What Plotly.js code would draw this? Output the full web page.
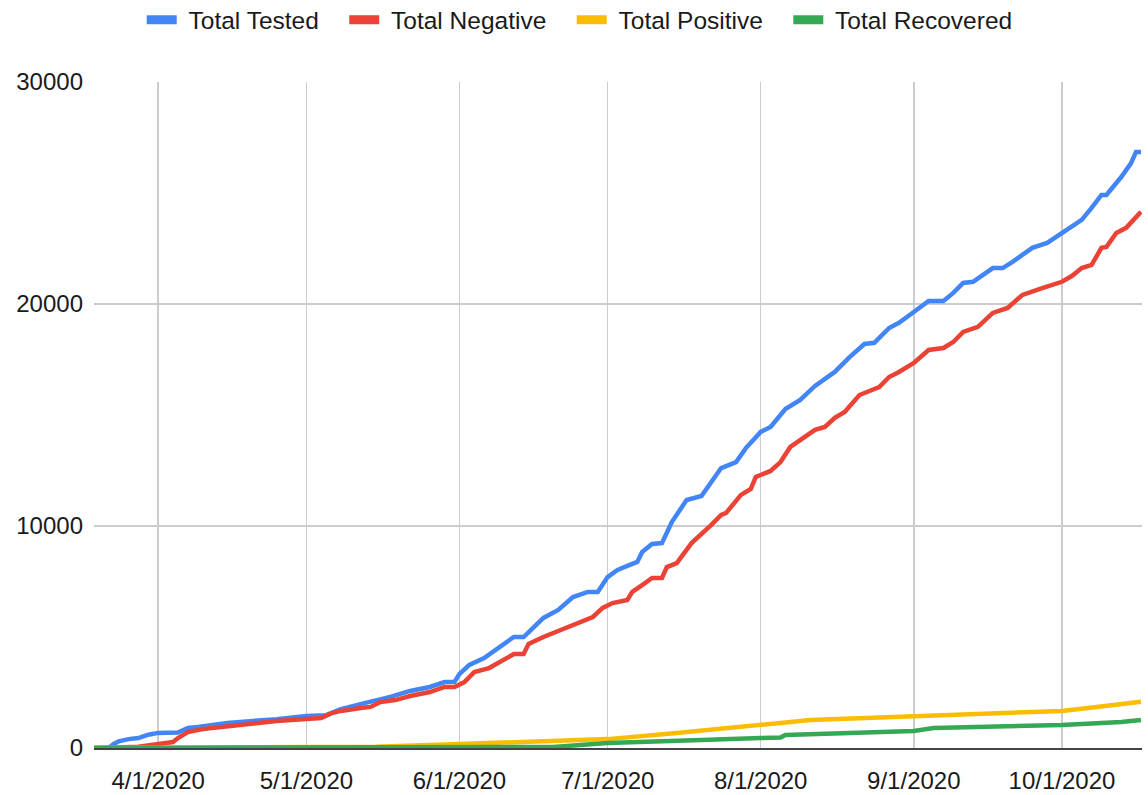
<!DOCTYPE html>
<html>
<head>
<meta charset="utf-8">
<script src="https://cdn.plot.ly/plotly-3.0.1.min.js"></script>
<style>html,body{margin:0;padding:0;background:#fff;}#chart{width:1148px;height:795px;}</style>
</head>
<body>
<div id="chart"></div>
<script>
// Total Tested
const testedDates = ["2020-03-19","2020-03-22","2020-03-23","2020-03-24","2020-03-26","2020-03-28","2020-03-30","2020-04-01","2020-04-05","2020-04-07","2020-04-09","2020-04-15","2020-04-25","2020-05-01","2020-05-05","2020-05-08","2020-05-13","2020-05-18","2020-05-22","2020-05-26","2020-05-29","2020-05-31","2020-06-01","2020-06-03","2020-06-06","2020-06-09","2020-06-12","2020-06-14","2020-06-18","2020-06-21","2020-06-24","2020-06-27","2020-06-29","2020-07-01","2020-07-03","2020-07-05","2020-07-07","2020-07-08","2020-07-10","2020-07-12","2020-07-14","2020-07-17","2020-07-20","2020-07-24","2020-07-27","2020-07-29","2020-08-01","2020-08-03","2020-08-06","2020-08-09","2020-08-12","2020-08-16","2020-08-19","2020-08-22","2020-08-24","2020-08-27","2020-08-29","2020-09-01","2020-09-04","2020-09-07","2020-09-09","2020-09-11","2020-09-13","2020-09-17","2020-09-19","2020-09-21","2020-09-25","2020-09-28","2020-10-01","2020-10-03","2020-10-05","2020-10-07","2020-10-09","2020-10-10","2020-10-13","2020-10-15","2020-10-16","2020-10-17"];
const testedValues = [0,0,180,300,400,450,600,680,700,900,950,1130,1300,1440,1480,1750,2030,2300,2570,2750,2970,2980,3330,3740,4050,4550,5000,5000,5860,6220,6800,7030,7030,7700,8020,8200,8380,8830,9190,9230,10180,11170,11350,12610,12880,13510,14240,14460,15270,15680,16310,16940,17610,18200,18250,18920,19150,19640,20140,20140,20500,20950,21000,21620,21620,21900,22530,22750,23200,23470,23790,24330,24910,24910,25720,26350,26850,26850];

// Total Negative
const negativeDates = ["2020-03-19","2020-03-22","2020-03-25","2020-03-28","2020-04-01","2020-04-04","2020-04-05","2020-04-07","2020-04-10","2020-04-15","2020-04-20","2020-04-25","2020-05-01","2020-05-04","2020-05-06","2020-05-08","2020-05-12","2020-05-14","2020-05-16","2020-05-19","2020-05-22","2020-05-26","2020-05-29","2020-05-31","2020-06-02","2020-06-04","2020-06-07","2020-06-09","2020-06-12","2020-06-14","2020-06-15","2020-06-18","2020-06-20","2020-06-23","2020-06-26","2020-06-28","2020-06-30","2020-07-02","2020-07-05","2020-07-06","2020-07-08","2020-07-10","2020-07-12","2020-07-13","2020-07-15","2020-07-18","2020-07-22","2020-07-24","2020-07-25","2020-07-28","2020-07-30","2020-07-31","2020-08-03","2020-08-05","2020-08-07","2020-08-10","2020-08-12","2020-08-14","2020-08-16","2020-08-18","2020-08-21","2020-08-25","2020-08-27","2020-08-29","2020-09-01","2020-09-04","2020-09-07","2020-09-09","2020-09-11","2020-09-14","2020-09-17","2020-09-20","2020-09-23","2020-09-27","2020-10-01","2020-10-03","2020-10-05","2020-10-07","2020-10-09","2020-10-10","2020-10-12","2020-10-14","2020-10-17"];
const negativeValues = [0,0,30,60,180,270,450,720,850,990,1130,1220,1310,1350,1560,1670,1800,1850,2070,2160,2340,2520,2750,2750,2970,3420,3600,3830,4230,4230,4690,5000,5180,5500,5770,5900,6310,6530,6670,7030,7340,7660,7660,8150,8330,9230,10050,10500,10590,11400,11670,12210,12480,12880,13560,14010,14330,14460,14870,15140,15900,16260,16710,16940,17340,17930,18020,18290,18740,18970,19600,19820,20410,20720,21000,21260,21620,21760,22530,22570,23200,23430,24150];

// Total Positive
const positiveDates = ["2020-03-19","2020-04-01","2020-04-15","2020-05-01","2020-05-15","2020-06-01","2020-06-15","2020-07-01","2020-07-15","2020-08-01","2020-08-05","2020-08-11","2020-09-01","2020-09-11","2020-10-01","2020-10-08","2020-10-17"];
const positiveValues = [0,10,20,30,60,180,280,400,680,1080,1130,1260,1440,1530,1670,1850,2080];

// Total Recovered
const recoveredDates = ["2020-03-19","2020-04-15","2020-05-01","2020-06-01","2020-06-20","2020-07-01","2020-07-10","2020-07-20","2020-08-01","2020-08-05","2020-08-06","2020-08-19","2020-09-01","2020-09-05","2020-09-17","2020-10-01","2020-10-13","2020-10-16","2020-10-17"];
const recoveredValues = [0,0,5,20,50,220,270,360,450,470,590,680,770,900,950,1040,1170,1200,1260];

const seriesNames = ["Total Tested","Total Negative","Total Positive","Total Recovered"];
const seriesColors = ["#4285F4","#EA4335","#FBBC04","#34A853"];
const yTicks = [0,10000,20000,30000];

const xs = [testedDates, negativeDates, positiveDates, recoveredDates];
const ys = [testedValues, negativeValues, positiveValues, recoveredValues];

const lead = '\u00a0';
const pad = '\u00a0\u00a0\u00a0';
const traces = seriesNames.map((n,i)=>({
  type:'scatter', mode:'lines', name:n, x:xs[i], y:ys[i], showlegend:false,
  line:{color:seriesColors[i], width:4.5}
}));
// legend swatches (thicker, as in the reference); a single point draws no line in the plot
seriesNames.forEach((n,i)=>traces.push({
  type:'scatter', mode:'lines', name:lead+n+pad, x:[xs[i][0]], y:[ys[i][0]], showlegend:true,
  line:{color:seriesColors[i], width:9}
}));

const font = {family:'"Liberation Sans", Arial, sans-serif', size:24, color:'#1a1a1a'};
const legFont = {family:'"Liberation Sans", Arial, sans-serif', size:24.5, color:'#1a1a1a'};

const layout = {
  width:1148, height:795,
  margin:{l:94, r:6, t:82, b:47},
  paper_bgcolor:'#fff', plot_bgcolor:'#fff',
  font:font,
  showlegend:true,
  legend:{orientation:'h', x:0.473, xanchor:'center', yref:'container', y:0.975, yanchor:'middle', font:legFont, itemwidth:30},
  xaxis:{type:'date', range:['2020-03-19','2020-10-17 05:00'], tick0:'2020-04-01', dtick:'M1',
    tickformat:'%-m/%-d/%Y', showgrid:true, gridcolor:'#cccccc', gridwidth:1.5,
    showline:true, linecolor:'#444', linewidth:2, ticks:'', zeroline:false,
    ticklabelstandoff:10, tickfont:font},
  yaxis:{range:[0,30000], tickvals:yTicks, ticktext:yTicks.map(String), showgrid:true, gridcolor:'#cccccc', gridwidth:1.5,
    zeroline:false, showline:false, ticks:'', ticklabelstandoff:10, tickfont:font}
};

Plotly.newPlot('chart', traces, layout, {displayModeBar:false, staticPlot:true});
</script>
</body>
</html>
